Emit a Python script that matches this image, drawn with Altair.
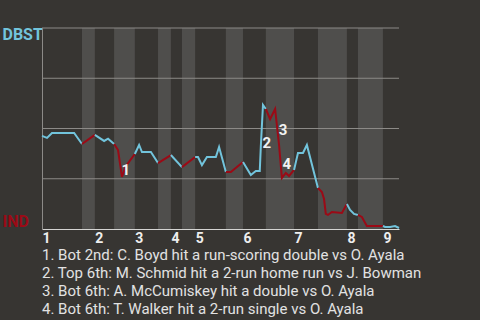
import altair as alt
import pandas as pd

# Win probability for DBST (1 = DBST wins, 0 = IND wins) against game progress (0-100)
progress = [0.0, 1.4, 2.8, 9.0, 11.2,
            14.8,
            17.4, 18.5, 20.2,
            21.3, 22.4, 23.5, 26.0,
            27.2, 28.0, 30.5, 32.5,
            36.1,
            39.2,
            42.9,
            43.7, 44.8, 46.2, 48.7, 49.6, 51.5,
            52.9, 56.3,
            58.5, 59.9, 61.0, 61.3, 61.9, 62.7,
            63.9, 65.3, 66.4, 67.2, 68.3, 69.2, 70.6,
            71.7, 73.1, 74.2, 77.3,
            78.4, 79.0, 79.5, 80.1, 81.2, 84.0, 85.4,
            86.3, 87.4, 88.5,
            89.6, 91.0, 95.5,
            96.1, 97.5, 98.9, 100.0]
win_prob = [0.463, 0.453, 0.478, 0.478, 0.423,
            0.468,
            0.438, 0.449, 0.423,
            0.393, 0.259, 0.313, 0.373,
            0.418, 0.383, 0.383, 0.328,
            0.368,
            0.308,
            0.358,
            0.358, 0.318, 0.358, 0.358, 0.408, 0.284,
            0.284, 0.333,
            0.269, 0.289, 0.289, 0.413, 0.617, 0.597,
            0.547, 0.597, 0.418, 0.254, 0.279, 0.264, 0.294,
            0.378, 0.378, 0.418, 0.204,
            0.184, 0.149, 0.075, 0.070, 0.085, 0.080, 0.124,
            0.095, 0.075, 0.070,
            0.060, 0.015, 0.015,
            0.010, 0.010, 0.015, 0.005]
# number of plays in each half-inning, top 1st through top 9th
plays_per_half = [5, 1, 3, 4, 4, 1, 1, 1, 6, 2, 6, 7, 4, 7, 3, 3, 4]

inning_starts = [0, 14.8, 26.0, 36.1, 42.9, 56.3, 70.6, 85.4, 95.5]
bottom_starts = [11.2, 20.2, 32.5, 39.2, 51.5, 62.7, 77.3, 88.5]
bottom_ends = [14.8, 26.0, 36.1, 42.9, 56.3, 70.6, 85.4, 95.5]

grid_levels = [0.25, 0.5, 0.75, 1.0]

event_ids = ["1", "2", "3", "4"]
event_progress = [23.5, 63.0, 67.5, 68.6]
event_prob = [0.294, 0.428, 0.493, 0.323]
notes = [
    "1. Bot 2nd: C. Boyd hit a run-scoring double vs O. Ayala",
    "2. Top 6th: M. Schmid hit a 2-run home run vs J. Bowman",
    "3. Bot 6th: A. McCumiskey hit a double vs O. Ayala",
    "4. Bot 6th: T. Walker hit a 2-run single vs O. Ayala",
]

BLUE = "#72c4dc"
RED = "#9b0a16"
BG = "#373532"
STRIPE = "#4f4e4c"
GRID = "#8c8a87"
FONT = "Roboto"

# Split the line into half-inning segments, each joined to the previous play
rows = []
pos = 0
prev = None
for h, n in enumerate(plays_per_half):
    team = "DBST" if h % 2 == 0 else "IND"
    pts = []
    if prev is not None:
        pts.append(prev)
    for i in range(pos, pos + n):
        pts.append((progress[i], win_prob[i]))
    for k, (x, y) in enumerate(pts):
        rows.append({"seg": h, "team": team, "x": x, "wp": y, "k": k})
    prev = (progress[pos + n - 1], win_prob[pos + n - 1])
    pos += n
line_df = pd.DataFrame(rows)

stripe_df = pd.DataFrame({"start": bottom_starts, "end": bottom_ends})
grid_df = pd.DataFrame({"level": grid_levels})
event_df = pd.DataFrame({"id": event_ids, "x": event_progress, "wp": event_prob})

xscale = alt.Scale(domain=[0, 100], nice=False, zero=False)
yscale = alt.Scale(domain=[0, 1], nice=False)

label_expr = "indexof([" + ",".join(str(v) for v in inning_starts) + "], datum.value) + 1"
xaxis = alt.Axis(
    values=inning_starts, labelExpr=label_expr, title=None, grid=False,
    ticks=False, tickSize=0, labelAlign="left", labelBaseline="top",
    labelPadding=2, labelFont=FONT, labelFontSize=14, labelFontWeight="bold",
    labelColor="#eeeeee", domainColor="#d4d4d2", domainWidth=1,
    labelOverlap=False, labelFlush=False,
)
yaxis = alt.Axis(
    values=[0, 1], labelExpr="datum.value > 0.5 ? 'DBST' : 'IND'", title=None,
    grid=False, ticks=False, tickSize=0, labelAlign="left",
    labelBaseline={"condition": {"test": "datum.value > 0.5", "value": "top"}, "value": "bottom"},
    labelColor={"condition": {"test": "datum.value > 0.5", "value": BLUE}, "value": RED},
    labelOffset={"condition": {"test": "datum.value > 0.5", "value": -2}, "value": 0},
    labelPadding=40, labelFont=FONT, labelFontSize=16, labelFontWeight="bold",
    domainColor=GRID, domainWidth=1, labelOverlap=False, labelFlush=False,
)

stripes = alt.Chart(stripe_df).mark_rect(color=STRIPE).encode(
    x=alt.X("start:Q", scale=xscale, axis=xaxis),
    x2="end:Q",
    y=alt.Y(datum=0, scale=yscale, axis=yaxis),
    y2=alt.Y2(datum=1),
)

grid = alt.Chart(grid_df).mark_rule(color=GRID, strokeWidth=1).encode(
    y=alt.Y("level:Q", scale=yscale, axis=yaxis),
)

line = alt.Chart(line_df).mark_line(strokeWidth=2, strokeJoin="miter").encode(
    x=alt.X("x:Q", scale=xscale, axis=xaxis),
    y=alt.Y("wp:Q", scale=yscale, axis=yaxis),
    color=alt.Color("team:N", scale=alt.Scale(domain=["DBST", "IND"], range=[BLUE, RED]), legend=None),
    detail="seg:N",
    order="k:Q",
)

labels = alt.Chart(event_df).mark_text(
    font=FONT, fontSize=15, fontWeight="bold", color="#f2f2f2",
    align="center", baseline="middle",
).encode(
    x=alt.X("x:Q", scale=xscale, axis=xaxis),
    y=alt.Y("wp:Q", scale=yscale, axis=yaxis),
    text="id:N",
)

chart = alt.layer(stripes, grid, line, labels).properties(
    width=357,
    height=201,
    background=BG,
    autosize=alt.AutoSizeParams(type="none"),
    padding={"left": 42, "top": 28, "right": 81, "bottom": 91},
    title=alt.TitleParams(
        text=notes, orient="bottom", anchor="start", frame="group",
        font=FONT, fontSize=15, fontWeight="normal", color="#e2e2e2",
        lineHeight=18, offset=3, baseline="top",
    ),
).configure_view(strokeWidth=0)

chart.save("out.html", embed_options={"renderer": "svg", "actions": False})
